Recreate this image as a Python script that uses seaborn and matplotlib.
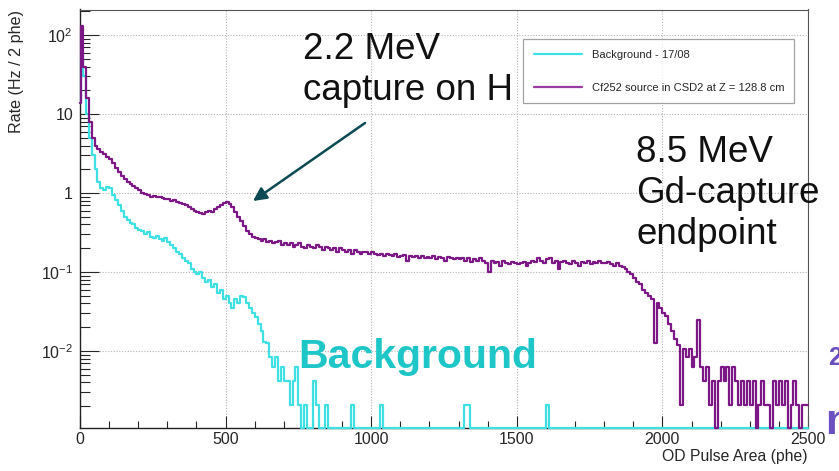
import numpy as np
import matplotlib
matplotlib.use("Agg")
import matplotlib.pyplot as plt
import seaborn as sns
from matplotlib.ticker import (FixedLocator, FixedFormatter, LogLocator,
                               MultipleLocator, NullFormatter)

# ---------------------------------------------------------------------------
# Histogram data: OD pulse area spectra (rate per bin, Hz)
# ---------------------------------------------------------------------------
bin_edges = [0, 2] + list(range(10, 2501, 10))

series_labels = ["Background - 17/08", "Cf252 source in CSD2 at Z = 128.8 cm"]

background_rate = [
    14,
    50, 30, 10, 5.0, 3.0, 2.0, 1.4, 1.15, 1.08, 1.18,
    1.15, 0.95, 0.82, 0.7, 0.6, 0.5, 0.45, 0.42, 0.4, 0.36,
    0.34, 0.33, 0.3, 0.32, 0.28, 0.27, 0.29, 0.26, 0.25, 0.27,
    0.24, 0.22, 0.2, 0.18, 0.17, 0.15, 0.14, 0.13, 0.11, 0.1,
    0.095, 0.1, 0.085, 0.075, 0.08, 0.065, 0.07, 0.055, 0.06, 0.045,
    0.05, 0.04, 0.035, 0.045, 0.04, 0.05, 0.048, 0.04, 0.035, 0.03,
    0.027, 0.022, 0.018, 0.013, 0.0126, 0.0084, 0.0063, 0.0084, 0.0042, 0.0063,
    0.0042, 0.0042, 0.0021, 0.0042, 0.0063, 0.0021, 0.0, 0.0021, 0.0, 0.0,
    0.0042, 0.0021, 0.0, 0.0, 0.0021, 0.0, 0.0, 0.0, 0.0, 0.0,
    0.0, 0.0, 0.0, 0.0021, 0.0, 0.0, 0.0, 0.0, 0.0, 0.0,
    0.0, 0.0, 0.0, 0.0021, 0.0, 0.0, 0.0, 0.0, 0.0, 0.0,
    0.0, 0.0, 0.0, 0.0, 0.0, 0.0, 0.0, 0.0, 0.0, 0.0,
    0.0, 0.0, 0.0, 0.0, 0.0, 0.0, 0.0, 0.0, 0.0, 0.0,
    0.0, 0.0, 0.0021, 0.0021, 0.0, 0.0, 0.0, 0.0, 0.0, 0.0,
    0.0, 0.0, 0.0, 0.0, 0.0, 0.0, 0.0, 0.0, 0.0, 0.0,
    0.0, 0.0, 0.0, 0.0, 0.0, 0.0, 0.0, 0.0, 0.0, 0.0,
    0.0021, 0.0, 0.0, 0.0, 0.0, 0.0, 0.0, 0.0, 0.0, 0.0,
    0.0, 0.0, 0.0, 0.0, 0.0, 0.0, 0.0, 0.0, 0.0, 0.0,
    0.0, 0.0, 0.0, 0.0, 0.0, 0.0, 0.0, 0.0, 0.0, 0.0,
    0.0, 0.0, 0.0, 0.0, 0.0, 0.0, 0.0, 0.0, 0.0, 0.0,
    0.0, 0.0, 0.0, 0.0, 0.0, 0.0, 0.0, 0.0, 0.0, 0.0,
    0.0, 0.0, 0.0, 0.0, 0.0, 0.0, 0.0, 0.0, 0.0, 0.0,
    0.0, 0.0, 0.0, 0.0, 0.0, 0.0, 0.0, 0.0, 0.0, 0.0,
    0.0, 0.0, 0.0, 0.0, 0.0, 0.0, 0.0, 0.0, 0.0, 0.0,
    0.0, 0.0, 0.0, 0.0, 0.0, 0.0, 0.0, 0.0, 0.0, 0.0,
]

cf252_rate = [
    14,
    130, 40, 16, 8.0, 5.0, 4.0, 3.6, 3.3, 3.1, 2.9,
    2.7, 2.4, 2.1, 1.85, 1.65, 1.5, 1.4, 1.3, 1.22, 1.17,
    1.08, 1.0, 0.98, 0.95, 0.9, 0.92, 0.88, 0.9, 0.86, 0.84,
    0.83, 0.8, 0.82, 0.77, 0.75, 0.72, 0.7, 0.66, 0.62, 0.6,
    0.58, 0.56, 0.54, 0.57, 0.59, 0.58, 0.62, 0.66, 0.7, 0.75,
    0.77, 0.73, 0.66, 0.58, 0.5, 0.44, 0.38, 0.33, 0.3, 0.28,
    0.27, 0.26, 0.25, 0.26, 0.24, 0.25, 0.23, 0.24, 0.25, 0.22,
    0.23, 0.22, 0.23, 0.21, 0.22, 0.23, 0.21, 0.2, 0.22, 0.21,
    0.2, 0.22, 0.21, 0.19, 0.21, 0.2, 0.19, 0.2, 0.18, 0.2,
    0.19, 0.18, 0.19, 0.17, 0.19, 0.18, 0.17, 0.18, 0.18, 0.17,
    0.18, 0.17, 0.165, 0.17, 0.16, 0.17, 0.165, 0.16, 0.17, 0.155,
    0.16, 0.165, 0.14, 0.16, 0.155, 0.16, 0.15, 0.16, 0.15, 0.155,
    0.15, 0.16, 0.145, 0.155, 0.15, 0.14, 0.155, 0.15, 0.145, 0.15,
    0.145, 0.15, 0.14, 0.15, 0.135, 0.145, 0.14, 0.15, 0.14, 0.13,
    0.1, 0.14, 0.13, 0.135, 0.12, 0.14, 0.13, 0.125, 0.135, 0.13,
    0.125, 0.13, 0.135, 0.12, 0.13, 0.14, 0.135, 0.15, 0.14, 0.13,
    0.145, 0.15, 0.13, 0.14, 0.11, 0.135, 0.14, 0.13, 0.125, 0.14,
    0.13, 0.12, 0.135, 0.13, 0.14, 0.125, 0.135, 0.13, 0.14, 0.13,
    0.13, 0.135, 0.125, 0.12, 0.13, 0.12, 0.115, 0.11, 0.1, 0.095,
    0.085, 0.075, 0.07, 0.06, 0.055, 0.05, 0.045, 0.0126, 0.04, 0.035,
    0.03, 0.028, 0.022, 0.018, 0.014, 0.012, 0.0021, 0.0105, 0.0084, 0.0105,
    0.0063, 0.0084, 0.025, 0.0063, 0.0042, 0.0063, 0.0021, 0.0042, 0.0, 0.0042,
    0.0063, 0.0042, 0.0063, 0.0021, 0.0063, 0.0042, 0.0021, 0.0042, 0.0021, 0.0042,
    0.0021, 0.0042, 0.0, 0.0021, 0.0042, 0.0021, 0.0021, 0.0, 0.0042, 0.0021,
    0.0042, 0.0021, 0.0042, 0.0, 0.0021, 0.0042, 0.0021, 0.0, 0.0021, 0.0021,
]

y_tick_values = [1e-2, 1e-1, 1, 10, 100]
y_tick_labels = ["$10^{-2}$", "$10^{-1}$", "1", "10", "$10^{2}$"]

# ---------------------------------------------------------------------------
# Style
# ---------------------------------------------------------------------------
sns.set_style("white")
plt.rcParams["font.family"] = ["Liberation Sans", "DejaVu Sans"]
plt.rcParams["mathtext.fontset"] = "custom"
plt.rcParams["mathtext.rm"] = "Liberation Sans"
plt.rcParams["mathtext.it"] = "Liberation Sans:italic"
plt.rcParams["mathtext.bf"] = "Liberation Sans:bold"

CYAN = "#3fe0e4"
PURPLE = "#7c1786"

W, H = 839, 471
fig = plt.figure(figsize=(W / 100, H / 100), dpi=100)
ax = fig.add_axes([80 / W, 1 - 428 / H, (808 - 80) / W, (428 - 9.5) / H])

y_min, y_max = 1.06e-3, 211.0

# Histograms drawn as step outlines; empty bins sit on the frame bottom
for rate, color, label in [(background_rate, CYAN, series_labels[0]),
                           (cf252_rate, PURPLE, series_labels[1])]:
    r = np.maximum(np.asarray(rate, dtype=float), y_min)
    r = np.append(r, r[-1])
    sns.lineplot(x=bin_edges, y=r, ax=ax, color=color, lw=1.6,
                 drawstyle="steps-post", sort=False, errorbar=None,
                 label=label, clip_on=False, zorder=3)

ax.set_yscale("log")
ax.set_xlim(0, 2500)
ax.set_ylim(y_min, y_max)

ax.xaxis.set_major_locator(MultipleLocator(500))
ax.xaxis.set_minor_locator(MultipleLocator(100))
ax.yaxis.set_major_locator(FixedLocator(y_tick_values))
ax.yaxis.set_major_formatter(FixedFormatter(y_tick_labels))
ax.yaxis.set_minor_locator(LogLocator(base=10, subs=np.arange(2, 10), numticks=30))
ax.yaxis.set_minor_formatter(NullFormatter())

ax.tick_params(axis="y", which="major", direction="in", length=14, width=0.8,
               pad=5, labelsize=11.5, right=False, left=True)
ax.tick_params(axis="y", which="minor", direction="in", length=7, width=0.8,
               right=False, left=True)
ax.tick_params(axis="x", which="major", direction="in", length=8.5, width=0.8,
               pad=3, labelsize=11.5, top=False, bottom=True)
ax.tick_params(axis="x", which="minor", direction="in", length=4.7, width=0.8,
               top=False, bottom=True)

ax.grid(True, which="major", color="#b4b4b4", linestyle=(0, (1, 1.5)), lw=0.8)
ax.set_xlabel("")
ax.set_ylabel("")

for side in ["left", "bottom"]:
    ax.spines[side].set_color("#222222")
    ax.spines[side].set_linewidth(1.0)
for side in ["top", "right"]:
    ax.spines[side].set_color("#555555")
    ax.spines[side].set_linewidth(0.8)

leg = ax.legend(loc="upper left", bbox_to_anchor=(0.6085, 0.70, 0.3723, 0.2295),
                mode="expand", borderaxespad=0, fontsize=8, frameon=True,
                fancybox=False, edgecolor="#8a8a8a", handlelength=4.4,
                handletextpad=0.9, labelspacing=2.1, borderpad=0.95)
leg.get_frame().set_linewidth(0.9)
for line in leg.get_lines():
    line.set_linewidth(1.6)
leg.get_lines()[1].set_color("#9a3aa4")

# Axis titles
fig.text(17 / W, 1 - 10 / H, "Rate (Hz / 2 phe)", rotation=90, ha="center",
         va="top", fontsize=11.6)
fig.text(807 / W, 1 - 461 / H, "OD Pulse Area (phe)", ha="right",
         va="baseline", fontsize=11.3)

# Callouts
fig.text(303 / W, 1 - 59 / H, "2.2 MeV", fontsize=26.5, va="baseline", color="#111111")
fig.text(303 / W, 1 - 100 / H, "capture on H", fontsize=26.5, va="baseline", color="#111111")
fig.text(636 / W, 1 - 162 / H, "8.5 MeV", fontsize=26.5, va="baseline", color="#111111")
fig.text(636 / W, 1 - 203 / H, "Gd-capture", fontsize=26.5, va="baseline", color="#111111")
fig.text(636 / W, 1 - 244 / H, "endpoint", fontsize=26.5, va="baseline", color="#111111")
fig.text(298 / W, 1 - 368 / H, "Background", fontsize=29.5, fontweight="bold",
         va="baseline", color="#1fc6c8")
fig.text(828 / W, 1 - 365 / H, "2", fontsize=18, fontweight="bold",
         va="baseline", color="#6a4fc0")
fig.text(825 / W, 1 - 434 / H, "n", fontsize=31, fontweight="bold",
         va="baseline", color="#6a4fc0")

ax.annotate("", xy=(253 / W, 1 - 201 / H), xytext=(365 / W, 1 - 123 / H),
            xycoords="figure fraction", textcoords="figure fraction",
            arrowprops=dict(arrowstyle="-|>", color="#0b4a52", lw=1.8,
                            mutation_scale=20, shrinkA=0, shrinkB=0))

fig.savefig("out.png", dpi=100)
